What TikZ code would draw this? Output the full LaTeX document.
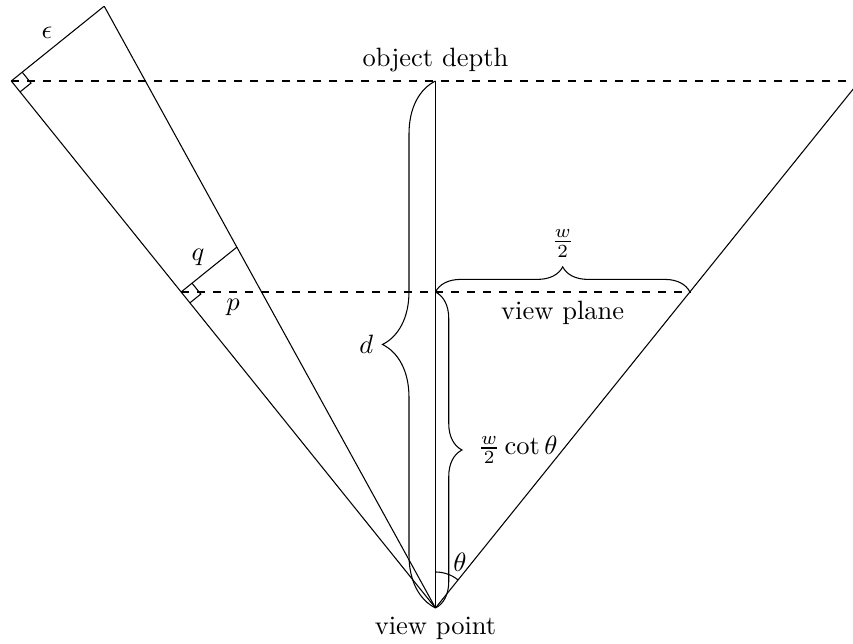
\documentclass[tikz,border=0pt]{standalone}
\usetikzlibrary{decorations.pathreplacing,calc}
\tikzset{
  bracedec/.style={decorate,decoration={brace,amplitude=#1}},
  guide/.style={dashed},
  rightmark/.style={line width=0.4pt}
}
\begin{document}
\begin{tikzpicture}[x=0.3774pt,y=0.3774pt,line width=0.4pt]
\useasboundingbox (0,0) rectangle (853,644);
% key points (pixel coordinates, y up)
\coordinate (V)  at (435.5,36);     % view point
\coordinate (D)  at (435.5,563);    % object depth on axis
\coordinate (L)  at (11.3,563);     % left edge at object depth
\coordinate (R)  at (859.7,563);    % right edge at object depth
\coordinate (C)  at (435.5,352);    % view plane on axis
\coordinate (PL) at (181.1,352);    % left edge at view plane
\coordinate (PR) at (689.9,352);    % right edge at view plane
\coordinate (E)  at (104.2,637.8);  % rotated ray end
\coordinate (Q)  at (236.8,396.8);  % q end

% rays
\draw (V) -- (D);
\draw (V) -- (R);
\draw (V) -- (L);
\draw (V) -- (E);
\draw (L) -- (E);
\draw (PL) -- (Q);

% dashed planes
\draw[guide] (L) -- (R);
\draw[guide] (PL) -- (PR);

% right-angle marks
\draw[rightmark] (L) ++(10.9,8.8) -- ++(8.8,-10.9) -- ++(-10.9,-8.8);
\draw[rightmark] (PL) ++(10.9,8.8) -- ++(8.8,-10.9) -- ++(-10.9,-8.8);

% braces
\draw[bracedec=20pt] (V) -- node[left=23.3pt,inner sep=0pt] (dl) {$d$} (D);
\draw[bracedec=10pt] (C) -- node[right=12.5pt] (cl) {$\frac{w}{2}\cot\theta$} (V);
\draw[bracedec=9.5pt] (C) -- node[above=9.5pt] (wl) {$\frac{w}{2}$} (PR);

% angle
\draw (V) ++(90:36) arc[start angle=90,end angle=51.2,radius=36];

% labels
\node[above] (od) at (D) {object depth};
\node[below] (vp) at (V) {view point};
\node[below] (vpl) at ($(C)!0.5!(PR)$) {view plane};
\node (th) at (460,82) {$\theta$};
\node (eps) at (47,611) {$\epsilon$};
\node (ql) at (198,387) {$q$};
\node (pl) at (233,337) {$p$};
\end{tikzpicture}
\end{document}
